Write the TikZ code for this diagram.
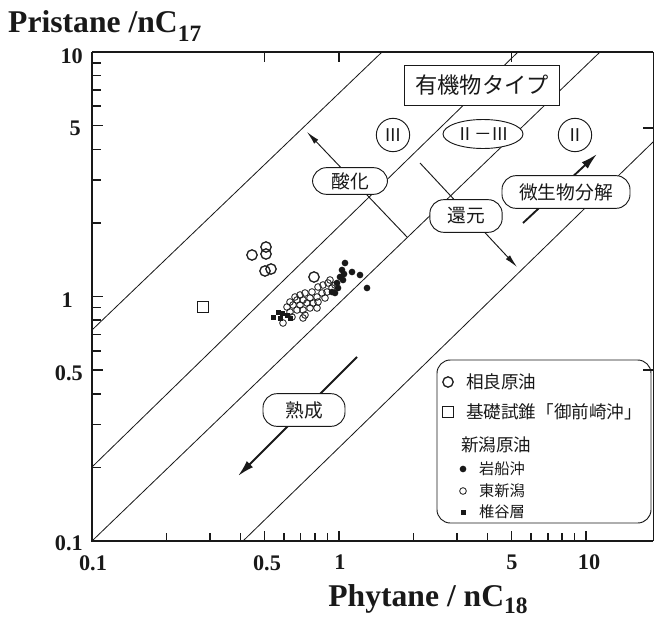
\documentclass[tikz,border=0pt]{standalone}
\usepackage{fontspec}
\setmainfont{Liberation Serif}
\newfontfamily\cjk{Noto Sans CJK JP}
\usetikzlibrary{arrows.meta,shapes.geometric}

\begin{document}
\begin{tikzpicture}[x=0.03cm,y=-0.03cm,color=black!90,
    ax/.style={font=\bfseries\fontsize{19}{19}\selectfont,inner sep=0pt},
    ttl/.style={font=\bfseries\fontsize{27}{27}\selectfont,inner sep=0pt},
    tag/.style={draw,fill=white,rounded corners=0.42cm,minimum
        height=0.98cm,inner sep=0pt,line width=0.8pt,
        font=\cjk\fontsize{16}{16}\selectfont},
    num/.style={draw,fill=white,circle,minimum size=1cm,inner sep=0pt,
        line width=0.8pt,font=\cjk\fontsize{15}{15}\selectfont},
    sag/.style={draw,circle,line width=1.1pt,minimum size=0.31cm,inner sep=0pt},
    kis/.style={draw,rectangle,line width=1.1pt,minimum size=0.34cm,inner sep=0pt},
    iwa/.style={fill,circle,minimum size=0.2cm,inner sep=0pt},
    hig/.style={draw,circle,line width=0.7pt,minimum size=0.2cm,inner sep=0pt},
    shi/.style={fill,rectangle,minimum size=0.15cm,inner sep=0pt},
    leg/.style={anchor=west,inner sep=0pt,font=\cjk\fontsize{15}{15}\selectfont},
    legs/.style={anchor=west,inner sep=0pt,font=\cjk\fontsize{13}{13}\selectfont},
    tk/.style={line width=1.3pt}]

    \useasboundingbox (0,0) rectangle (657,621);

    % the frame and ticks

    \draw[line width=2pt] (92,52) -- (92,541) -- (653,541);
    \draw[line width=1.6pt] (92,52) -- (653,52);
    \draw[line width=0.6pt] (653,52) -- (653,541);

    \foreach \v in {0.2,0.3,0.4,0.6,0.7,0.8,0.9,2,3,4,6,7,8,9}
    \draw[tk] (92,{541-244.5*log10(10*\v)}) -- ++(9,0);
    \foreach \v in {0.5,1,5}
    \draw[tk] (92,{541-244.5*log10(10*\v)}) -- ++(11,0);
    \foreach \v in {0.2,0.3,0.4,0.6,0.7,0.8,0.9,2,3,4,6,7,8,9}
    \draw[tk] ({92+247*log10(10*\v)},541) -- ++(0,-8);
    \foreach \v in {0.5,1,5,10}
    \draw[tk] ({92+247*log10(10*\v)},541) -- ++(0,-10);
    \foreach \v in {0.5,1,5}
    \draw[tk] ({92+247*log10(10*\v)},52) -- ++(0,10);
    \draw[tk] (653,128) -- ++(-10,0);
    \draw[tk] (653,370) -- ++(-10,0);

    % the axis texts

    \node[ax,anchor=east] (y10) at (83,56) {10};
    \node[ax,anchor=east] (y5) at (81,128) {5};
    \node[ax,anchor=east] (y1) at (73,300) {1};
    \node[ax,anchor=east] (y05) at (83,373) {0.5};
    \node[ax,anchor=east] (y01) at (83,543) {0.1};
    \node[ax] (x01) at (93,563) {0.1};
    \node[ax] (x05) at (267,563) {0.5};
    \node[ax] (x1) at (340,562) {1};
    \node[ax] (x5) at (512,562) {5};
    \node[ax] (x10) at (589,562) {10};

    \node[ttl,anchor=base west] (ylab) at (8,33)
    {Pristane /nC\raisebox{-7pt}{\fontsize{20}{20}\selectfont 17}};
    \node[ttl,anchor=base] (xlab) at (428,606)
    {Phytane / nC\raisebox{-6pt}{\fontsize{20}{20}\selectfont 18}};

    % the type lines

    \coordinate (l1a) at (92,330);
    \coordinate (l1b) at (382,52);
    \coordinate (l2a) at (92,467);
    \coordinate (l2b) at (518,52);
    \coordinate (l3a) at (92,541);
    \coordinate (l3b) at (600,52);
    \coordinate (l4a) at (243,541);
    \coordinate (l4b) at (653,142);
    \draw[line width=0.7pt] (l1a) -- (l1b);
    \draw[line width=0.7pt] (l2a) -- (l2b);
    \draw[line width=0.7pt] (l3a) -- (l3b);
    \draw[line width=0.7pt] (l4a) -- (l4b);

    % the arrows

    \coordinate (ox0) at (407,237);
    \coordinate (ox1) at (307,132);
    \coordinate (rd0) at (420,163);
    \coordinate (rd1) at (517,267);
    \coordinate (bd0) at (523,223);
    \coordinate (bd1) at (597,154);
    \coordinate (mt0) at (357,357);
    \coordinate (mt1) at (238,476);

    \draw[->,>={Latex[length=4mm,width=1.7mm]},line width=0.8pt] (ox0) -- (ox1);
    \draw[->,>={Latex[length=4mm,width=1.7mm]},line width=0.8pt] (rd0) -- (rd1);
    \draw[->,>={Latex[length=5mm,width=2.6mm]},line width=1.6pt] (bd0) -- (bd1);
    \draw[->,>={Latex[length=5mm,width=2.6mm]},line width=1.6pt] (mt0) -- (mt1);

    % the labels

    \node[tag,minimum width=2.25cm,minimum height=0.8cm] (ox) at (350,181) {酸化};
    \node[tag,minimum width=2.17cm] (rd) at (466,216) {還元};
    \node[tag,minimum width=3.84cm] (bd) at (566,192) {微生物分解};
    \node[tag,minimum width=2.46cm] (mt) at (304,410) {熟成};

    \node[draw,fill=white,line width=0.8pt,minimum width=4.65cm,minimum
        height=1.2cm,font=\cjk\fontsize{19}{19}\selectfont] (type) at (482,85) {有機物タイプ};
    \node[num] (t3) at (393,135) {Ⅲ};
    \node[num,ellipse,minimum width=2.4cm,minimum height=0.87cm] (t23) at (483,134) {Ⅱ－Ⅲ};
    \node[num] (t2) at (575,135) {Ⅱ};

    % the oils

    \foreach \x/\y [count=\i] in {252/255,266/247,266/254,265/271,271/269,314/277}
    \node[sag] (s\i) at (\x,\y) {};
    \node[kis] (k1) at (203,307) {};

    \foreach \x/\y [count=\i] in {295/297,300/295,305/293,312/292,318/287,323/285,
        328/283,290/302,297/300,303/300,310/298,317/297,322/293,327/292,332/288,
        287/307,293/305,300/305,307/303,313/303,318/302,325/298,290/312,297/310,
        303/310,310/308,317/308,292/317,305/315,283/323,303/318,335/285,330/280}
    \node[hig] (h\i) at (\x,\y) {};
    \foreach \x/\y [count=\i] in {345/263,342/270,352/272,360/275,367/288,340/277,
        337/283,332/292,343/280,338/288,335/293,344/274}
    \node[iwa] (w\i) at (\x,\y) {};
    \foreach \x/\y [count=\i] in {273/317,278/312,282/313,287/315,280/318,290/318}
    \node[shi] (c\i) at (\x,\y) {};

    % the legend

    \draw[rounded corners=0.4cm,line width=0.8pt] (437,360) rectangle (651,523);
    \node[sag] (ls) at (448,382) {};
    \node[leg] (lst) at (466,382) {相良原油};
    \node[kis] (lk) at (448,412) {};
    \node[leg] (lkt) at (466,412) {基礎試錐「御前崎沖」};
    \node[leg] (ln) at (461,445) {新潟原油};
    \node[iwa] (li) at (463,469) {};
    \node[legs] (lit) at (479,469) {岩船沖};
    \node[hig] (lh) at (463,491) {};
    \node[legs] (lht) at (479,491) {東新潟};
    \node[shi] (lc) at (463,512) {};
    \node[legs] (lct) at (479,512) {椎谷層};
  \end{tikzpicture}
\end{document}
